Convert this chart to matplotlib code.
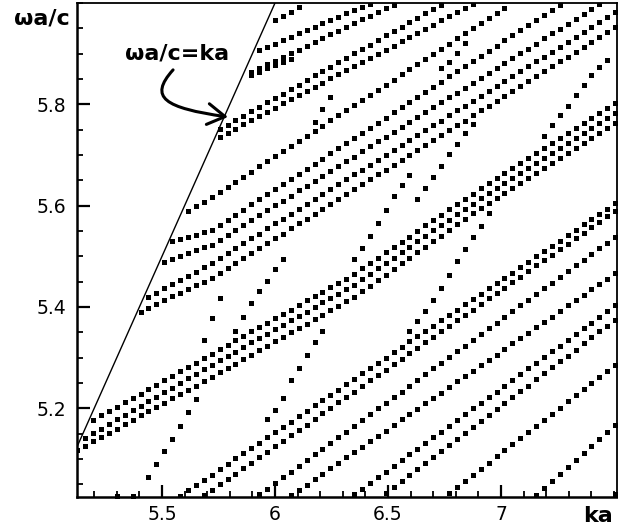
import matplotlib
matplotlib.use("Agg")
import matplotlib.pyplot as plt
from matplotlib.patches import FancyArrowPatch
from matplotlib.path import Path
from matplotlib.ticker import MultipleLocator

# ka samples on which the dispersion relation was solved
ka_grid = [5.125, 5.160, 5.195, 5.230, 5.265, 5.300, 5.335, 5.370, 5.405, 5.440,
           5.475, 5.510, 5.545, 5.580, 5.615, 5.650, 5.685, 5.720, 5.755, 5.790,
           5.825, 5.860, 5.895, 5.930, 5.965, 6.000, 6.035, 6.070, 6.105, 6.140,
           6.175, 6.210, 6.245, 6.280, 6.315, 6.350, 6.385, 6.420, 6.455, 6.490,
           6.525, 6.560, 6.595, 6.630, 6.665, 6.700, 6.735, 6.770, 6.805, 6.840,
           6.875, 6.910, 6.945, 6.980, 7.015, 7.050, 7.085, 7.120, 7.155, 7.190,
           7.225, 7.260, 7.295, 7.330, 7.365, 7.400, 7.435, 7.470, 7.505]

# each band: (index of first ka sample, wa/c values)
band_a1 = (2, [5.177, 5.186, 5.194, 5.203, 5.212, 5.220, 5.229, 5.238, 5.247, 5.256,
               5.264, 5.273, 5.282, 5.290, 5.299, 5.308, 5.317, 5.325, 5.334, 5.343,
               5.352, 5.360, 5.369, 5.378, 5.386, 5.395, 5.404, 5.413, 5.421, 5.430,
               5.439, 5.447, 5.456, 5.465, 5.476, 5.486, 5.497, 5.508, 5.518, 5.529,
               5.539, 5.550, 5.561, 5.571, 5.582, 5.593, 5.603, 5.614, 5.624, 5.635,
               5.645, 5.655, 5.665, 5.675, 5.684, 5.694, 5.704, 5.714, 5.724, 5.734,
               5.744, 5.754, 5.764, 5.774, 5.783, 5.793, 5.803])
band_a2 = (1, [5.142, 5.151, 5.160, 5.169, 5.178, 5.187, 5.196, 5.205, 5.214, 5.223,
               5.232, 5.241, 5.250, 5.259, 5.268, 5.277, 5.286, 5.295, 5.304, 5.312,
               5.321, 5.330, 5.339, 5.347, 5.356, 5.365, 5.374, 5.383, 5.391, 5.400,
               5.409, 5.418, 5.426, 5.435, 5.444, 5.455, 5.465, 5.476, 5.487, 5.497,
               5.508, 5.519, 5.530, 5.540, 5.551, 5.562, 5.572, 5.583, 5.594, 5.604,
               5.615, 5.625, 5.635, 5.645, 5.655, 5.664, 5.674, 5.684, 5.694, 5.704,
               5.714, 5.724, 5.734, 5.743, 5.753, 5.763, 5.773, 5.783])
band_a3 = (0, [5.118, 5.126, 5.135, 5.143, 5.152, 5.160, 5.169, 5.177, 5.186, 5.194,
               5.203, 5.211, 5.220, 5.228, 5.237, 5.245, 5.254, 5.262, 5.271, 5.280,
               5.288, 5.297, 5.306, 5.315, 5.323, 5.332, 5.341, 5.350, 5.359, 5.367,
               5.376, 5.385, 5.394, 5.402, 5.411, 5.420, 5.431, 5.442, 5.453, 5.464,
               5.475, 5.486, 5.497, 5.508, 5.519, 5.530, 5.541, 5.552, 5.563, 5.574,
               5.585, 5.596, 5.606, 5.616, 5.625, 5.635, 5.645, 5.655, 5.665, 5.675,
               5.684, 5.694, 5.704, 5.714, 5.724, 5.734, 5.743, 5.753, 5.763])
band_c_low = (8, [5.391, 5.398, 5.406, 5.413, 5.421, 5.428, 5.435, 5.443, 5.450, 5.458,
                  5.468, 5.477, 5.487, 5.497, 5.506, 5.516, 5.526, 5.536, 5.545, 5.555,
                  5.565, 5.574, 5.584, 5.594, 5.604, 5.613, 5.623, 5.633, 5.642, 5.652,
                  5.662, 5.671, 5.681, 5.691, 5.700, 5.710, 5.720, 5.730, 5.739, 5.749,
                  5.759, 5.768, 5.778, 5.788, 5.797, 5.807, 5.817, 5.826, 5.836, 5.846,
                  5.856, 5.865, 5.875, 5.885, 5.894, 5.904, 5.914, 5.923, 5.933, 5.943,
                  5.952])
band_c_mid = (9, [5.420, 5.428, 5.437, 5.445, 5.454, 5.462, 5.470, 5.479, 5.487,
                  5.497, 5.506, 5.516, 5.526, 5.536, 5.545, 5.555, 5.565, 5.574, 5.584,
                  5.594, 5.603, 5.613, 5.623, 5.633, 5.642, 5.652, 5.662, 5.671, 5.681,
                  5.691, 5.700, 5.710, 5.720, 5.730, 5.739, 5.749, 5.759, 5.768, 5.778,
                  5.788, 5.797, 5.807, 5.817, 5.827, 5.836, 5.846, 5.856, 5.865, 5.875,
                  5.885, 5.894, 5.904, 5.914, 5.924, 5.933, 5.943, 5.953, 5.962, 5.972,
                  5.982])
band_c_top = (11, [5.489, 5.495, 5.500, 5.506, 5.512, 5.518, 5.523,
                   5.533, 5.543, 5.552, 5.562, 5.572, 5.581, 5.591, 5.601, 5.610, 5.620,
                   5.630, 5.639, 5.649, 5.659, 5.668, 5.678, 5.688, 5.697, 5.707, 5.717,
                   5.727, 5.736, 5.746, 5.756, 5.765, 5.775, 5.785, 5.794, 5.804, 5.814,
                   5.823, 5.833, 5.843, 5.852, 5.862, 5.872, 5.881, 5.891, 5.901, 5.910,
                   5.920, 5.930, 5.940, 5.949, 5.959, 5.969, 5.978, 5.988, 5.998])
band_c0 = (12, [5.530, 5.534, 5.538, 5.543, 5.548, 5.552,
                5.562, 5.572, 5.582, 5.592, 5.603, 5.613, 5.623, 5.633, 5.643, 5.653,
                5.663, 5.673, 5.683, 5.693, 5.704, 5.714, 5.724, 5.734, 5.744, 5.754,
                5.764, 5.774, 5.784, 5.794, 5.805, 5.815, 5.825, 5.835, 5.845, 5.855,
                5.865, 5.875, 5.885, 5.895, 5.906, 5.916, 5.926, 5.936, 5.946, 5.956,
                5.966, 5.976, 5.986, 5.996])
band_f = (14, [5.590, 5.599, 5.608, 5.617,
               5.627, 5.637, 5.647, 5.657, 5.667, 5.678, 5.688, 5.698, 5.708, 5.718,
               5.728, 5.738, 5.748, 5.758, 5.769, 5.779, 5.789, 5.799, 5.809, 5.819,
               5.829, 5.839, 5.849, 5.859, 5.870, 5.880, 5.890, 5.900, 5.910, 5.920,
               5.930, 5.940, 5.950, 5.960, 5.971, 5.981, 5.991])
band_e1 = (18, [5.751, 5.760, 5.769, 5.777, 5.786, 5.795, 5.804, 5.813, 5.821, 5.830,
                5.839, 5.848, 5.857, 5.865, 5.874, 5.883, 5.892, 5.901, 5.909, 5.918,
                5.927, 5.936, 5.945, 5.953, 5.962, 5.971, 5.980, 5.989, 5.997])
band_e2 = (18, [5.736, 5.744, 5.752, 5.761, 5.769, 5.777, 5.785, 5.793, 5.802, 5.810,
                5.818, 5.826, 5.834, 5.843, 5.851, 5.859, 5.867, 5.875, 5.884, 5.892,
                5.900, 5.908, 5.916, 5.925, 5.933, 5.941, 5.949, 5.957, 5.966, 5.974,
                5.982, 5.990, 5.998])
band_d3 = (22, [5.864, 5.871, 5.879, 5.886, 5.894, 5.901, 5.908, 5.916, 5.923, 5.931,
                5.938, 5.945, 5.953, 5.960, 5.968, 5.975, 5.982, 5.990, 5.997])
band_d3b = (22, [5.858, 5.864, 5.871, 5.877, 5.884, 5.890])
band_d2 = (23, [5.907, 5.914, 5.920, 5.927, 5.933, 5.940, 5.947, 5.953, 5.960, 5.966,
                5.973, 5.980, 5.986, 5.993, 5.999])
band_d1 = (25, [5.966, 5.975, 5.983, 5.992])

band_b1a = (13, [5.027, 5.038, 5.048, 5.059, 5.069, 5.080, 5.090, 5.101, 5.111, 5.122,
                 5.132, 5.143, 5.153, 5.164, 5.174, 5.185, 5.195, 5.206, 5.216, 5.227,
                 5.237, 5.248, 5.258, 5.269, 5.279, 5.290, 5.300, 5.311, 5.321, 5.332,
                 5.342, 5.353, 5.363, 5.374, 5.384, 5.395, 5.405, 5.416, 5.426, 5.437,
                 5.447, 5.458, 5.468, 5.479, 5.489, 5.500, 5.510, 5.521, 5.531, 5.542,
                 5.552, 5.563, 5.573, 5.584, 5.594, 5.605])
band_b1b = (16, [5.028, 5.039, 5.050, 5.060, 5.071, 5.082, 5.093, 5.104, 5.114, 5.125,
                 5.136, 5.147, 5.158, 5.168, 5.179, 5.190, 5.201, 5.212, 5.222, 5.233,
                 5.244, 5.255, 5.266, 5.276, 5.287, 5.298, 5.309, 5.320, 5.330, 5.341,
                 5.352, 5.363, 5.374, 5.384, 5.395, 5.406, 5.417, 5.428, 5.438, 5.449,
                 5.460, 5.471, 5.482, 5.492, 5.503, 5.514, 5.525, 5.536, 5.546, 5.557,
                 5.568, 5.579, 5.590])
band_b2 = (23, [5.030, 5.041, 5.053, 5.064, 5.075, 5.087, 5.098, 5.109, 5.120, 5.132,
                5.143, 5.154, 5.166, 5.177, 5.188, 5.200, 5.211, 5.222, 5.233, 5.245,
                5.256, 5.267, 5.279, 5.290, 5.301, 5.313, 5.324, 5.335, 5.346, 5.358,
                5.369, 5.380, 5.392, 5.403, 5.414, 5.426, 5.437, 5.448, 5.459, 5.471,
                5.482, 5.493, 5.505, 5.516, 5.527, 5.539])
band_b3 = (27, [5.028, 5.039, 5.049, 5.060, 5.071, 5.082, 5.092, 5.103, 5.114, 5.124,
                5.135, 5.146, 5.156, 5.167, 5.178, 5.189, 5.199, 5.210, 5.221, 5.231,
                5.242, 5.253, 5.263, 5.274, 5.285, 5.296, 5.306, 5.317, 5.328, 5.338,
                5.349, 5.360, 5.370, 5.381, 5.392, 5.403, 5.413, 5.424, 5.435, 5.445,
                5.456, 5.467])
band_b4a = (35, [5.030, 5.041, 5.053, 5.064, 5.075, 5.087, 5.098, 5.109, 5.120, 5.132,
                 5.143, 5.154, 5.166, 5.177, 5.188, 5.200, 5.211, 5.222, 5.233, 5.245,
                 5.256, 5.267, 5.279, 5.290, 5.301, 5.313, 5.324, 5.335, 5.346, 5.358,
                 5.369, 5.380, 5.392, 5.403])
band_b4b = (39, [5.033, 5.045, 5.057, 5.068, 5.080, 5.092, 5.104, 5.116, 5.127, 5.139,
                 5.151, 5.163, 5.175, 5.186, 5.198, 5.210, 5.222, 5.234, 5.245, 5.257,
                 5.269, 5.281, 5.293, 5.304, 5.316, 5.328, 5.340, 5.352, 5.363, 5.375])
band_b5 = (47, [5.032, 5.044, 5.056, 5.068, 5.080, 5.093, 5.105, 5.117, 5.129, 5.141,
                5.153, 5.165, 5.177, 5.189, 5.201, 5.214, 5.226, 5.238, 5.250, 5.262,
                5.274, 5.286])
band_b6 = (58, [5.028, 5.042, 5.056, 5.070, 5.084, 5.098, 5.112, 5.126, 5.140, 5.154,
                5.168])
band_b7 = (68, [5.030])

# steep, sparsely sampled branches
steep_1 = (9, [5.065, 5.090, 5.115, 5.140, 5.166, 5.192, 5.218])
steep_1b = (16, [5.335, 5.378, 5.418])
steep_2 = (20, [5.352, 5.380, 5.407, 5.432, 5.452, 5.475, 5.495])
steep_3 = (24, [5.178, 5.197, 5.220, 5.255, 5.280, 5.305, 5.330, 5.352])
steep_4 = (42, [5.352, 5.372, 5.392, 5.413, 5.437, 5.463, 5.490, 5.515, 5.538, 5.560,
                5.585])
steep_5 = (59, [5.738, 5.759, 5.778, 5.797, 5.818, 5.839, 5.857, 5.873, 5.888])
steep_6 = (43, [5.613, 5.634, 5.656, 5.679, 5.701, 5.722, 5.743, 5.762])
steep_7 = (46, [5.872, 5.884, 5.901, 5.921])
steep_8 = (30, [5.765, 5.790, 5.815])
steep_9 = (35, [5.495, 5.516, 5.540, 5.565, 5.592, 5.620, 5.640, 5.660])

# points sitting on the lower frame
edge_ka = [5.300, 5.370]
edge_w = [5.026, 5.026]

bands = [band_a1, band_a2, band_a3, band_c_low, band_c_mid, band_c_top, band_c0,
         band_f, band_e1, band_e2, band_d3, band_d3b, band_d2, band_d1,
         band_b1a, band_b1b, band_b2, band_b3, band_b4a, band_b4b, band_b5,
         band_b6, band_b7,
         steep_1, steep_1b, steep_2, steep_3, steep_4, steep_5, steep_6,
         steep_7, steep_8, steep_9]

x_ticks = [5.5, 6.0, 6.5, 7.0]
x_tick_labels = ["5.5", "6", "6.5", "7"]
y_ticks = [5.2, 5.4, 5.6, 5.8]
y_tick_labels = ["5.2", "5.4", "5.6", "5.8"]

fig = plt.figure(figsize=(6.18, 5.28), dpi=100)
ax = fig.add_axes([77 / 618, 31 / 528, 540 / 618, 494 / 528])

# light line
ax.plot([5.0, 6.2], [5.0, 6.2], color="black", lw=1.0, zorder=2)

for start, values in bands:
    ka = ka_grid[start:start + len(values)]
    ax.plot(ka, values[:len(ka)], "s", color="black", ms=3.6, mew=0, zorder=3)
ax.plot(edge_ka, edge_w, "s", color="black", ms=3.6, mew=0, zorder=3, clip_on=False)

ax.set_xlim(5.124, 7.513)
ax.set_ylim(5.025, 6.0)

ax.set_xticks(x_ticks)
ax.set_xticklabels(x_tick_labels)
ax.set_yticks(y_ticks)
ax.set_yticklabels(y_tick_labels)
ax.xaxis.set_minor_locator(MultipleLocator(0.1))
ax.yaxis.set_minor_locator(MultipleLocator(0.05))
ax.tick_params(which="both", direction="in", top=False, right=False,
               labelsize=13.5, colors="black")
ax.tick_params(which="major", length=9, width=1.6)
ax.tick_params(which="minor", length=4.5, width=1.3)
ax.tick_params(axis="y", pad=8)
ax.tick_params(axis="x", pad=6)

for side in ["left", "bottom"]:
    ax.spines[side].set_linewidth(1.8)
for side in ["top", "right"]:
    ax.spines[side].set_linewidth(1.3)

fig.text(42 / 618, 1 - 18 / 528, "ωa/c", fontsize=16, fontweight="bold",
         ha="center", va="center")
fig.text(598 / 618, 1 - 516 / 528, "ka", fontsize=16, fontweight="bold",
         ha="center", va="center")

ax.text(5.566, 5.901, "ωa/c=ka", fontsize=16, fontweight="bold",
        ha="center", va="center")

arrow_path = Path([(5.549, 5.868), (5.438, 5.813), (5.513, 5.793), (5.792, 5.775)],
                  [Path.MOVETO, Path.CURVE4, Path.CURVE4, Path.CURVE4])
arrow = FancyArrowPatch(path=arrow_path, arrowstyle="->,head_length=0.5,head_width=0.3",
                        mutation_scale=25, lw=2.2, color="black",
                        shrinkA=0, shrinkB=0, zorder=4)
ax.add_patch(arrow)

fig.savefig("out.png", dpi=100)
